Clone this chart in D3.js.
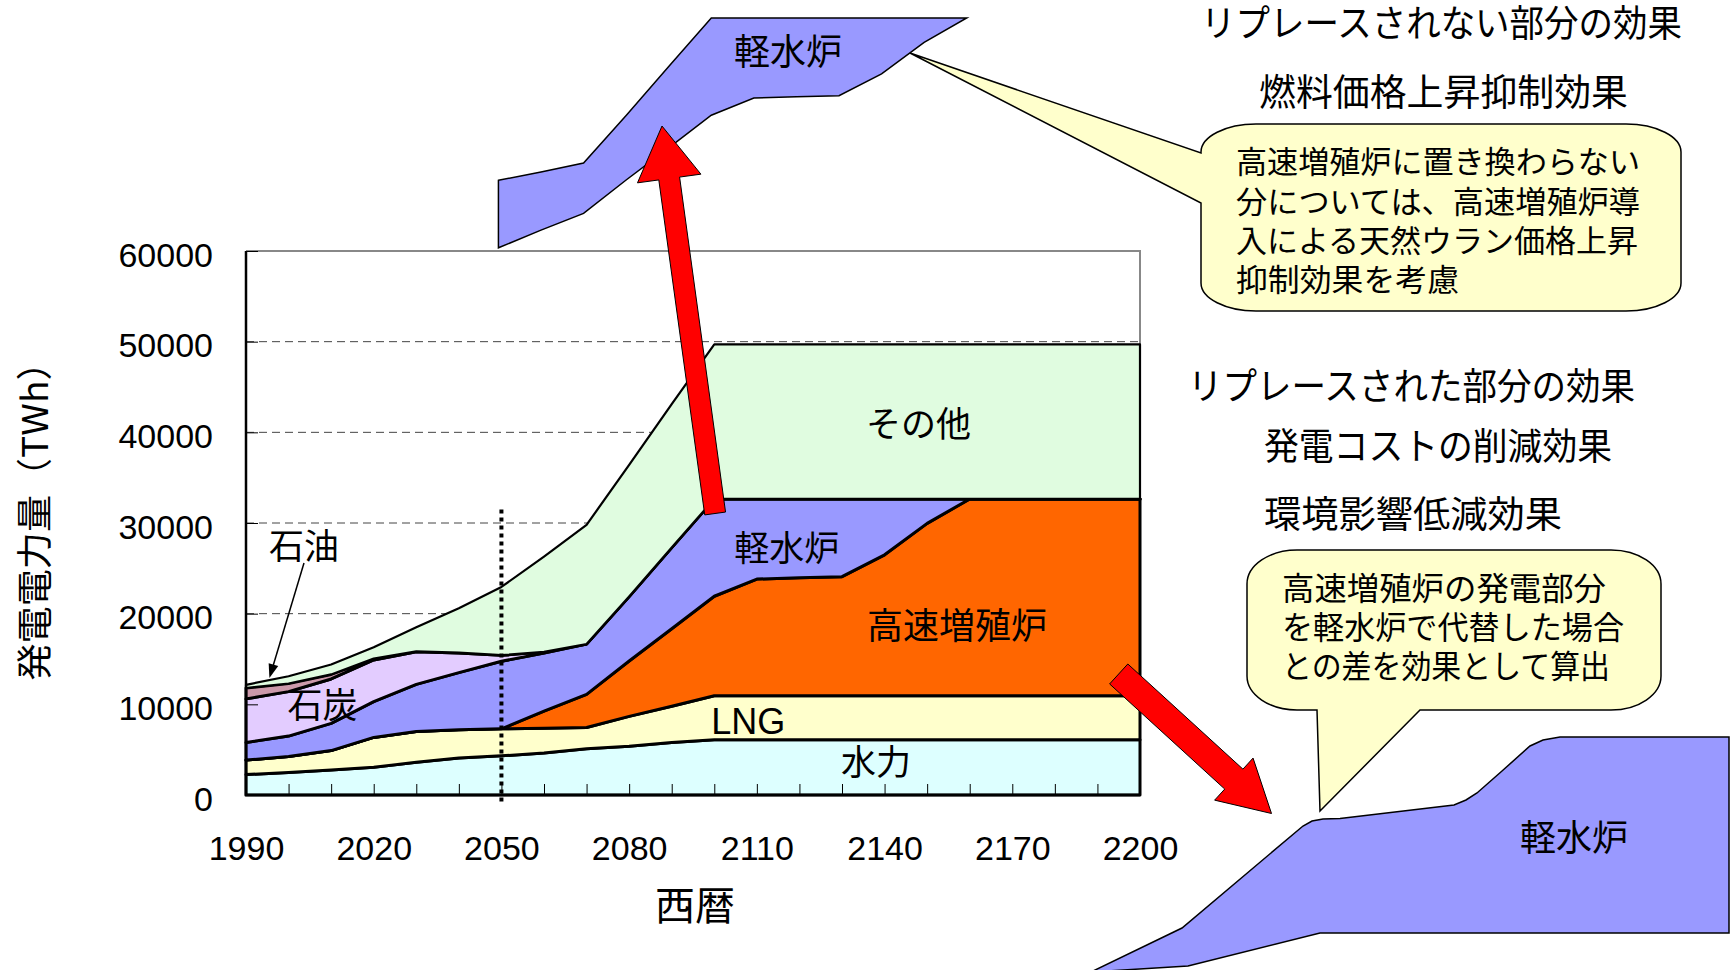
<!DOCTYPE html>
<html>
<head>
<meta charset="utf-8">
<script src="https://cdn.jsdelivr.net/npm/d3@7"></script>
<style>
  body { margin: 0; background: #fff; }
  svg { display: block; font-family: "Liberation Sans", "Noto Sans CJK JP", sans-serif; }
</style>
</head>
<body>
<svg id="chart"></svg>
<script>
// years and generation by source (TWh), bottom to top of the stack
const years  = [1990,2000,2010,2020,2030,2040,2050,2060,2070,2080,2090,2100,2110,2120,2130,2140,2150,2160,2170,2180,2190,2200];
const hydro  = [2250,2480,2760,3060,3600,4080,4320,4620,5100,5370,5800,6100,6100,6100,6100,6100,6100,6100,6100,6100,6100,6100];
const lng    = [1600,1770,2140,3290,3400,3120,2980,2730,2350,3300,3980,4850,4850,4850,4850,4850,4850,4850,4850,4850,4850,4850];
const fbr    = [0,0,0,0,0,0,0,1900,3650,6110,8550,10970,12870,13000,13130,15540,19010,21700,21700,21700,21700,21700];
const lwr    = [1950,2250,3000,3950,5200,6300,7450,6400,5550,7120,8970,10730,8830,8700,8570,6160,2690,0,0,0,0,0];
const coal   = [4800,4900,4900,4600,3600,2150,650,150,0,0,0,0,0,0,0,0,0,0,0,0,0,0];
const oil    = [1200,900,500,150,50,50,20,0,0,0,0,0,0,0,0,0,0,0,0,0,0,0];
const other  = [350,800,1100,1250,2650,4900,7530,10500,13150,14500,15800,17050,17050,17050,17050,17050,17050,17050,17050,17050,17050,17050];

const keys      = ["hydro","lng","fbr","lwr","coal","oil","other"];
const yTicks    = [0,10000,20000,30000,40000,50000,60000];
const xLabels   = [1990,2020,2050,2080,2110,2140,2170,2200];
const colors    = {hydro:"#DDFFFF", lng:"#FFFFCC", fbr:"#FF6600", lwr:"#9999FF", coal:"#E3CCFF", oil:"#CC99AA", other:"#E0FCE0"};

let width = 1731, height = 970,
    x = d3.scaleLinear().domain([1990,2200]).range([246,1140]),
    y = d3.scaleLinear().domain([0,60000]).range([795,251]),
    svg = d3.select("#chart").attr("width",width).attr("height",height);

let rows = years.map((yr,i)=>({year:yr, hydro:hydro[i], lng:lng[i], fbr:fbr[i], lwr:lwr[i], coal:coal[i], oil:oil[i], other:other[i]})),
    series = d3.stack().keys(keys)(rows),
    area = d3.area().x(d=>x(d.data.year)).y0(d=>y(d[0])).y1(d=>y(d[1]));

// grid
svg.append("g")
  .selectAll("line")
  .data(yTicks.filter(v=>v>0 && v<60000))
  .enter().append("line")
    .attr("x1",x(1990)).attr("x2",x(2200))
    .attr("y1",d=>y(d)).attr("y2",d=>y(d))
    .attr("stroke","#444").attr("stroke-width",1).attr("stroke-dasharray","8,5");

svg.append("path")
  .attr("d",`M${x(1990)},${y(60000)}H${x(2200)}V${y(0)}`)
  .attr("fill","none").attr("stroke","#888").attr("stroke-width",2);

// stacked areas
svg.append("g")
  .selectAll("path")
  .data(series)
  .enter().append("path")
    .attr("d",area)
    .attr("fill",d=>colors[d.key])
    .attr("stroke","#000")
    .attr("stroke-width",d=>d.key=="other"?2.2:3)
    .attr("stroke-linejoin","round");

// axes
svg.append("g")
  .attr("transform",`translate(0,${y(0)})`)
  .call(d3.axisBottom(x).tickValues(years).tickSize(-11).tickSizeOuter(0).tickFormat(""))
  .call(g=>g.select(".domain").remove())
  .call(g=>g.selectAll("line").attr("stroke","#000"));

svg.append("g")
  .attr("transform",`translate(0,${y(0)})`)
  .call(d3.axisBottom(x).tickValues(xLabels).tickSize(0).tickPadding(41).tickFormat(d3.format("d")))
  .call(g=>g.select(".domain").remove())
  .call(g=>g.selectAll("text").attr("font-size",34).attr("font-family","Liberation Sans").attr("fill","#000"));

svg.append("g")
  .attr("transform",`translate(${x(1990)},0)`)
  .call(d3.axisLeft(y).tickValues(yTicks).tickSize(-12).tickSizeOuter(0).tickPadding(33).tickFormat(d3.format("d")))
  .call(g=>g.select(".domain").remove())
  .call(g=>g.selectAll("line").attr("stroke","#000"))
  .call(g=>g.selectAll("text").attr("font-size",34).attr("dy","0.45em").attr("font-family","Liberation Sans").attr("fill","#000"));

svg.append("path")
  .attr("d",`M${x(1990)},${y(60000)}V${y(0)}H${x(2200)}`)
  .attr("fill","none").attr("stroke","#000").attr("stroke-width",2.5);

// 2050 marker
svg.append("line")
  .attr("x1",x(2050)).attr("x2",x(2050))
  .attr("y1",y(31500)).attr("y2",y(0)+9)
  .attr("stroke","#000").attr("stroke-width",4).attr("stroke-dasharray","4,4");

function txt(t,px,py,size,anchor,len){
  let el = svg.append("text")
    .attr("x",px).attr("y",py).attr("dy","0.37em")
    .attr("font-size",size).attr("text-anchor",anchor||"middle")
    .attr("font-family","'Liberation Sans','Noto Sans CJK JP'")
    .attr("fill","#000").text(t);
  if(len) el.attr("textLength",len).attr("lengthAdjust","spacingAndGlyphs");
  return el;
}

// axis titles
svg.append("text")
  .attr("transform","translate(35,512) rotate(-90)")
  .attr("dy","0.37em").attr("text-anchor","middle")
  .attr("font-size",36).attr("font-family","'Noto Sans CJK JP'")
  .attr("textLength",337).attr("lengthAdjust","spacingAndGlyphs")
  .text("発電電力量（TWh）");
txt("西暦",695,905,40);

// area labels
txt("その他",   x(2148), y(40900), 35);
txt("軽水炉",   x(2117), y(27200), 35);
txt("高速増殖炉", x(2157), y(18700), 36);
txt("LNG",     x(2108), y(8200), 36);
txt("水力",     x(2138), y(3600), 35);
txt("石油",     x(2003.6), y(27500), 35);
txt("石炭",     x(2008), y(9900), 35);

// pointer from 石油
let p0 = [304,563], p1 = [x(1995.5), y(12900)],
    ang = Math.atan2(p1[1]-p0[1], p1[0]-p0[0]);
svg.append("line")
  .attr("x1",p0[0]).attr("y1",p0[1])
  .attr("x2",p1[0]-Math.cos(ang)*10).attr("y2",p1[1]-Math.sin(ang)*10)
  .attr("stroke","#000").attr("stroke-width",1.5);
svg.append("path")
  .attr("d",`M${p1}L${[p1[0]-Math.cos(ang)*14+Math.sin(ang)*5, p1[1]-Math.sin(ang)*14-Math.cos(ang)*5]}L${[p1[0]-Math.cos(ang)*14-Math.sin(ang)*5, p1[1]-Math.sin(ang)*14+Math.cos(ang)*5]}Z`)
  .attr("fill","#000");

// light water reactor band lifted out of the chart
let lwrPart = series[3].filter(d=>d.data.year>=2050 && d.data.year<=2160);
svg.append("path")
  .attr("transform","translate(-3,-481)")
  .attr("d",area(lwrPart))
  .attr("fill","#9999FF").attr("stroke","#000").attr("stroke-width",1.5);
txt("軽水炉",788,52,36);

// callout bubbles
function bubble(x0,y0,x1,y1,rx,ry,tailFn){
  let k = 0.55, p = d3.path();
  p.moveTo(x0+rx,y0);
  p.lineTo(x1-rx,y0);
  p.bezierCurveTo(x1-rx+rx*k,y0,x1,y0+ry-ry*k,x1,y0+ry);
  p.lineTo(x1,y1-ry);
  p.bezierCurveTo(x1,y1-ry+ry*k,x1-rx+rx*k,y1,x1-rx,y1);
  if(tailFn && tailFn.edge=="bottom") tailFn(p);
  p.lineTo(x0+rx,y1);
  p.bezierCurveTo(x0+rx-rx*k,y1,x0,y1-ry+ry*k,x0,y1-ry);
  if(tailFn && tailFn.edge=="left") tailFn(p);
  p.lineTo(x0,y0+ry);
  p.bezierCurveTo(x0,y0+ry-ry*k,x0+rx-rx*k,y0,x0+rx,y0);
  p.closePath();
  return p.toString();
}

let tailLeft = p=>{ p.lineTo(1201,203); p.lineTo(910,53); p.lineTo(1201,153); };
tailLeft.edge = "left";
let tailBottom = p=>{ p.lineTo(1420,710); p.lineTo(1320,811); p.lineTo(1317,710); };
tailBottom.edge = "bottom";

svg.append("path")
  .attr("d",bubble(1201,124,1681,311,55,28,tailLeft))
  .attr("fill","#FFFFCC").attr("stroke","#000").attr("stroke-width",1.5);
svg.append("path")
  .attr("d",bubble(1247,550,1661,710,50,34,tailBottom))
  .attr("fill","#FFFFCC").attr("stroke","#000").attr("stroke-width",1.5);

// red arrows
function blockArrow(tail,tip,shaftW,headW,headL){
  let dx = tip[0]-tail[0], dy = tip[1]-tail[1], L = Math.hypot(dx,dy),
      ux = dx/L, uy = dy/L, nx = -uy, ny = ux,
      bx = tip[0]-ux*headL, by = tip[1]-uy*headL,
      pts = [
        [tail[0]+nx*shaftW/2, tail[1]+ny*shaftW/2],
        [bx+nx*shaftW/2, by+ny*shaftW/2],
        [bx+nx*headW/2, by+ny*headW/2],
        tip,
        [bx-nx*headW/2, by-ny*headW/2],
        [bx-nx*shaftW/2, by-ny*shaftW/2],
        [tail[0]-nx*shaftW/2, tail[1]-ny*shaftW/2]];
  return "M"+pts.join("L")+"Z";
}

svg.append("path")
  .attr("d",blockArrow([x(2100.2),y(31050)],[662,126],21,64,53))
  .attr("fill","#FF0000").attr("stroke","#000").attr("stroke-width",1);
svg.append("path")
  .attr("d",blockArrow([x(2195),y(13350)],[1271.5,813.5],27,57,51))
  .attr("fill","#FF0000").attr("stroke","#000").attr("stroke-width",1);

// light water reactor replacement shape (bottom right)
let lowerShape = [[1091,972],[1182,928],[1303,826],[1312,821],[1323,819],[1340,818.5],[1454,805],[1466,800],[1477,793],[1502,771],[1530,746],[1543,740],[1560,737],[1729,737],[1729,933],[1320,933],[1188,966],[1091,972]];
svg.append("path")
  .attr("d",d3.line()(lowerShape)+"Z")
  .attr("fill","#9999FF").attr("stroke","#000").attr("stroke-width",1.5);
txt("軽水炉",1574,838,36);

// right hand notes
txt("リプレースされない部分の効果",1201,23,37,"start",481);
txt("燃料価格上昇抑制効果",1259,92,37,"start",369);
txt("高速増殖炉に置き換わらない",1236,162,31,"start",404);
txt("分については、高速増殖炉導",1236,201.5,31,"start",404);
txt("入による天然ウラン価格上昇",1236,241,31,"start",402);
txt("抑制効果を考慮",1236,280,31,"start",223);

txt("リプレースされた部分の効果",1188,386,37,"start",447);
txt("発電コストの削減効果",1264,446,37,"start",348);
txt("環境影響低減効果",1264,514,37,"start",298);
txt("高速増殖炉の発電部分",1282,588,32,"start",324);
txt("を軽水炉で代替した場合",1282,627,32,"start",342);
txt("との差を効果として算出",1282,666,32,"start",328);
</script>
</body>
</html>
